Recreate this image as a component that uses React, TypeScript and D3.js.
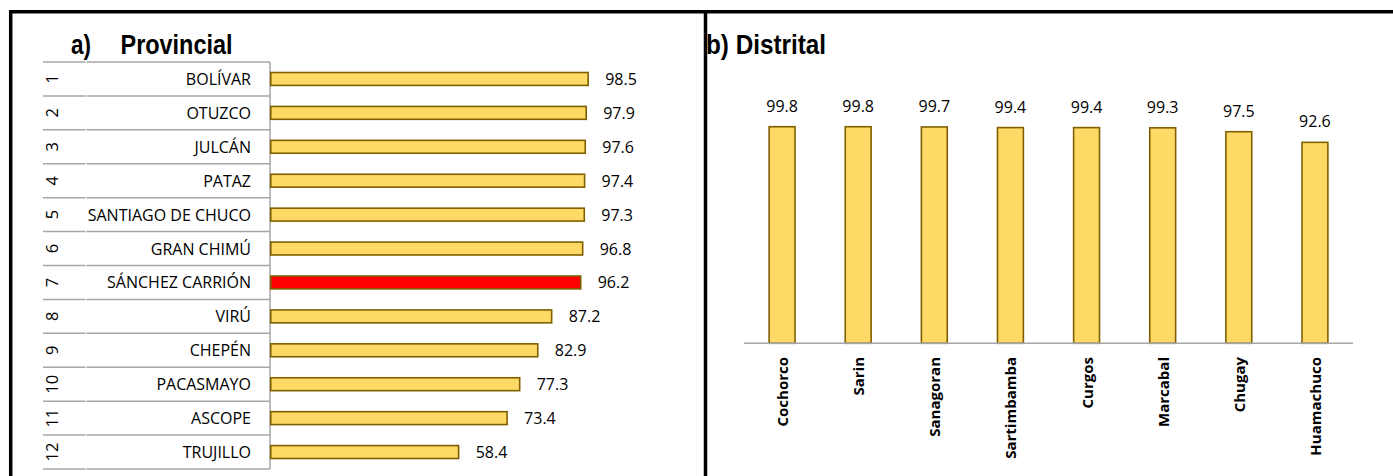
import React from "react";
import * as d3 from "d3";

const provincias = [
  "BOLÍVAR",
  "OTUZCO",
  "JULCÁN",
  "PATAZ",
  "SANTIAGO DE CHUCO",
  "GRAN CHIMÚ",
  "SÁNCHEZ CARRIÓN",
  "VIRÚ",
  "CHEPÉN",
  "PACASMAYO",
  "ASCOPE",
  "TRUJILLO",
];
const provValores = [98.5, 97.9, 97.6, 97.4, 97.3, 96.8, 96.2, 87.2, 82.9, 77.3, 73.4, 58.4];
const provRanking = ["1", "2", "3", "4", "5", "6", "7", "8", "9", "10", "11", "12"];
const provDestacada = "SÁNCHEZ CARRIÓN";

const distritos = ["Cochorco", "Sarin", "Sanagoran", "Sartimbamba", "Curgos", "Marcabal", "Chugay", "Huamachuco"];
const distValores = [99.8, 99.8, 99.7, 99.4, 99.4, 99.3, 97.5, 92.6];

const GOLD = "#FFD966";
const EDGE = "#7F6000";
const GRID = "#A6A6A6";
const FONT = "'Open Sans', 'Noto Sans', sans-serif";
const TITLE_FONT = "'Liberation Sans Narrow', 'Liberation Sans', Arial, sans-serif";

export default function App() {
  // Left panel scales
  const yBand = d3.scaleBand<string>().domain(provincias).range([62, 469]).padding(0);
  const xProv = d3.scaleLinear().domain([0, 100]).range([270, 593]);
  const barH = yBand.bandwidth() * 0.38;

  // Right panel scales
  const xBand = d3.scaleBand<string>().domain(distritos).range([744, 1353]).paddingInner(0.66).paddingOuter(0.33);
  const yDist = d3.scaleLinear().domain([0, 100]).range([343.3, 126.3]);

  const rowLines = d3.range(provincias.length + 1).map((i) => 62 + i * yBand.step());

  return (
    <svg
      width={1393}
      height={476}
      style={{ position: "absolute", left: 0, top: 0, background: "#fff" }}
      xmlns="http://www.w3.org/2000/svg"
    >
      <rect x={0} y={0} width={1393} height={476} fill="#fff" />

      {/* Frame */}
      <line x1={9} x2={1393} y1={11.7} y2={11.7} stroke="#000" strokeWidth={3.5} />
      <line x1={10.7} x2={10.7} y1={10} y2={476} stroke="#000" strokeWidth={3.5} />
      <line x1={705.5} x2={705.5} y1={10} y2={476} stroke="#000" strokeWidth={3.5} />

      {/* Titles */}
      <text x={71} y={54} fontFamily={TITLE_FONT} fontWeight="bold" fontSize={27} textLength={20} lengthAdjust="spacingAndGlyphs">
        a)
      </text>
      <text x={120.5} y={54} fontFamily={TITLE_FONT} fontWeight="bold" fontSize={27} textLength={112} lengthAdjust="spacingAndGlyphs">
        Provincial
      </text>
      <text x={706} y={54} fontFamily={TITLE_FONT} fontWeight="bold" fontSize={27} textLength={120} lengthAdjust="spacingAndGlyphs">
        b) Distrital
      </text>

      {/* Left: table lines */}
      {rowLines.map((y, i) => (
        <g key={"rl" + i}>
          <line x1={43} x2={85.5} y1={y} y2={y} stroke={GRID} strokeWidth={1.5} />
          <line x1={86.5} x2={270} y1={y} y2={y} stroke={GRID} strokeWidth={1.5} />
        </g>
      ))}
      <line x1={270} x2={270} y1={62} y2={469} stroke={GRID} strokeWidth={1.5} />

      {/* Left: labels, bars */}
      {provincias.map((p, i) => {
        const cy = (yBand(p) as number) + yBand.bandwidth() / 2;
        const v = provValores[i];
        return (
          <g key={p}>
            <text
              transform={`translate(51,${cy}) rotate(-90)`}
              textAnchor="middle"
              dominantBaseline="central"
              fontFamily={FONT}
              fontSize={16.5}
              fill="#000"
            >
              {provRanking[i]}
            </text>
            <text x={251} y={cy} textAnchor="end" dominantBaseline="central" fontFamily={FONT} fontSize={16} fill="#000">
              {p}
            </text>
            <rect
              x={xProv(0) + 0.75}
              y={cy - barH / 2}
              width={xProv(v) - xProv(0) - 0.75}
              height={barH}
              fill={p === provDestacada ? "#FF0000" : GOLD}
              stroke={EDGE}
              strokeWidth={1.6}
            />
            <text x={xProv(v) + 17} y={cy} dominantBaseline="central" fontFamily={FONT} fontSize={16} fill="#000">
              {v.toFixed(1)}
            </text>
          </g>
        );
      })}

      {/* Right: bars */}
      {distritos.map((d, i) => {
        const x = xBand(d) as number;
        const w = xBand.bandwidth();
        const v = distValores[i];
        const cx = x + w / 2;
        return (
          <g key={d}>
            <rect x={x} y={yDist(v)} width={w} height={yDist(0) - yDist(v)} fill={GOLD} stroke={EDGE} strokeWidth={1.6} />
            <text x={cx} y={yDist(v) - 15} textAnchor="middle" fontFamily={FONT} fontSize={16} fill="#000">
              {v.toFixed(1)}
            </text>
            <text
              transform={`translate(${cx},357) rotate(-90)`}
              textAnchor="end"
              dominantBaseline="central"
              fontFamily={FONT}
              fontWeight="bold"
              fontSize={15}
              fill="#000"
            >
              {d}
            </text>
          </g>
        );
      })}
      <line x1={744} x2={1353} y1={343.3} y2={343.3} stroke={GRID} strokeWidth={1.5} />
    </svg>
  );
}
